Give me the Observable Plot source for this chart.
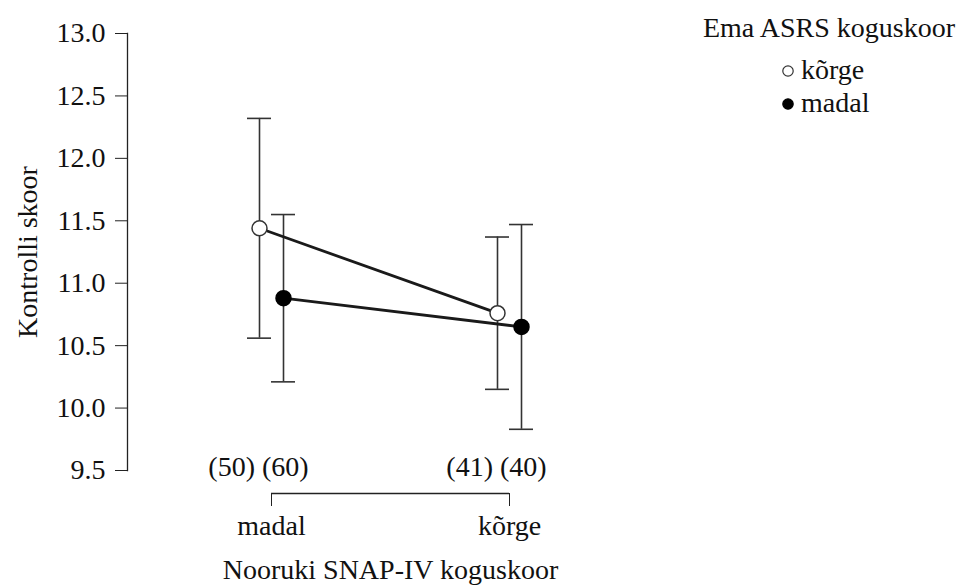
<!DOCTYPE html>
<html>
<head>
<meta charset="utf-8">
<script src="https://cdn.jsdelivr.net/npm/d3@7"></script>
<script src="https://cdn.jsdelivr.net/npm/@observablehq/plot@0.6"></script>
<style>
  html, body { margin: 0; padding: 0; background: #fff; }
  #wrap { position: relative; width: 958px; height: 587px; font-family: "Liberation Serif", serif; }
  #wrap svg, #wrap svg text, #wrap svg tspan, #wrap svg g { font-family: "Liberation Serif", serif !important; }
  #legend { position: absolute; left: 0; top: 0; }
</style>
</head>
<body>
<div id="wrap"></div>
<script>
// ---- data ----
const groups = ["madal", "kõrge"];              // Nooruki SNAP-IV koguskoor
const series = ["kõrge", "madal"];              // Ema ASRS koguskoor
const meanHigh = [11.44, 10.76];
const lowHigh  = [10.56, 10.15];
const upHigh   = [12.32, 11.37];
const meanLow  = [10.88, 10.65];
const lowLow   = [10.21, 9.83];
const upLow    = [11.55, 11.47];
const nHigh = [50, 41];
const nLow  = [60, 40];
const yTicks = [9.5, 10, 10.5, 11, 11.5, 12, 12.5, 13];
const yTitle = "Kontrolli skoor";
const xTitle = "Nooruki SNAP-IV koguskoor";
const legendTitle = "Ema ASRS koguskoor";

// ---- build tables ----
const rows = [];
groups.forEach((g, i) => {
  rows.push({group: g, series: series[0], mean: meanHigh[i], lo: lowHigh[i], hi: upHigh[i]});
  rows.push({group: g, series: series[1], mean: meanLow[i], lo: lowLow[i], hi: upLow[i]});
});
const countRows = groups.map((g, i) => ({group: g, y: yTicks[0], label: `(${nHigh[i]}) (${nLow[i]})`}));
const bracket = [{a: groups[0], b: groups[groups.length - 1], y: yTicks[0]}];

const FONT = "Liberation Serif";
const offset = {[series[0]]: -12, [series[1]]: 12};
const fillOf = {[series[0]]: "white", [series[1]]: "black"};
const strokeOf = {[series[0]]: "#333", [series[1]]: "black"};

const errMarks = [], lineMarks = [], dotMarks = [];
for (const s of series) {
  const d = rows.filter(r => r.series === s);
  const dx = offset[s];
  errMarks.push(
    Plot.ruleX(d, {x: "group", y1: "lo", y2: "hi", dx, stroke: "#333", strokeWidth: 1.6}),
    Plot.ruleY(d, {x1: "group", x2: "group", y: "lo", dx, insetLeft: -12, insetRight: -12, stroke: "#333", strokeWidth: 1.6}),
    Plot.ruleY(d, {x1: "group", x2: "group", y: "hi", dx, insetLeft: -12, insetRight: -12, stroke: "#333", strokeWidth: 1.6})
  );
  lineMarks.push(Plot.line(d, {x: "group", y: "mean", dx, stroke: "#1a1a1a", strokeWidth: 2.8}));
  dotMarks.push(Plot.dot(d, {x: "group", y: "mean", dx, r: 7.5, fill: fillOf[s], stroke: strokeOf[s], strokeWidth: 1.5}));
}

const chart = Plot.plot({
  width: 958,
  height: 587,
  marginLeft: 127,
  marginRight: 305,
  marginTop: 33,
  marginBottom: 117,
  style: {fontFamily: FONT, fontSize: "28px", color: "#111", background: "white"},
  x: {type: "point", domain: groups, padding: 0.605},
  y: {domain: [yTicks[0], yTicks[yTicks.length - 1]]},
  marks: [
    Plot.frame({anchor: "left", stroke: "#222", strokeWidth: 1.3}),
    Plot.axisY(yTicks, {tickSize: 12, tickPadding: 10, tickFormat: d3.format(".1f"), fontSize: 28, fontFamily: FONT, fontVariant: "normal", label: null, stroke: "#222"}),
    Plot.axisX({tickSize: 13, tickPadding: 9, dy: 23, fontSize: 28, fontFamily: FONT, fontVariant: "normal", label: null, stroke: "#222"}),
    Plot.ruleY(bracket, {x1: "a", x2: "b", y: "y", dy: 23, stroke: "#222", strokeWidth: 1.3}),
    Plot.text(countRows, {x: "group", y: "y", text: "label", dx: -13, dy: -3, fontSize: 28, fontFamily: FONT, fill: "#111"}),
    Plot.text([yTitle], {frameAnchor: "left", textAnchor: "middle", rotate: -90, dx: -99, fontSize: 28, fontFamily: FONT, fill: "#111"}),
    Plot.text([xTitle], {frameAnchor: "bottom", textAnchor: "middle", dy: 108, fontSize: 28, fontFamily: FONT, fill: "#111"}),
    ...errMarks,
    ...lineMarks,
    ...dotMarks
  ]
});

chart.querySelectorAll("text, tspan").forEach(el => {
  el.style.fontFamily = "'Liberation Serif', serif";
  el.setAttribute("font-family", "Liberation Serif");
});

const wrap = document.getElementById("wrap");
wrap.appendChild(chart);

// ---- legend overlay ----
const ns = "http://www.w3.org/2000/svg";
const lg = document.createElementNS(ns, "svg");
lg.setAttribute("id", "legend");
lg.setAttribute("width", 958);
lg.setAttribute("height", 130);
lg.style.fontFamily = "'Liberation Serif', serif";
lg.style.fontSize = "28px";
const t = document.createElementNS(ns, "text");
t.setAttribute("x", 829);
t.setAttribute("y", 37);
t.setAttribute("text-anchor", "middle");
t.setAttribute("fill", "#111");
t.textContent = legendTitle;
lg.appendChild(t);
series.forEach((s, i) => {
  const base = 79 + i * 33;
  const c = document.createElementNS(ns, "circle");
  c.setAttribute("cx", 788);
  c.setAttribute("cy", base - 8);
  c.setAttribute("r", 5.2);
  c.setAttribute("fill", fillOf[s]);
  c.setAttribute("stroke", strokeOf[s]);
  c.setAttribute("stroke-width", 1.2);
  lg.appendChild(c);
  const tx = document.createElementNS(ns, "text");
  tx.setAttribute("x", 801);
  tx.setAttribute("y", base);
  tx.setAttribute("fill", "#111");
  tx.textContent = s;
  lg.appendChild(tx);
});
wrap.appendChild(lg);
</script>
</body>
</html>
